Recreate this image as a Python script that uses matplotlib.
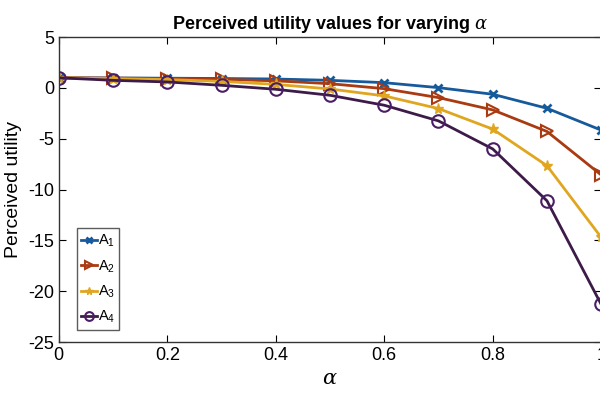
import matplotlib
matplotlib.use('Agg')
import matplotlib.pyplot as plt

plt.rcParams['font.family'] = ['Liberation Sans', 'DejaVu Sans']
plt.rcParams['mathtext.fontset'] = 'dejavuserif'
plt.rcParams['axes.unicode_minus'] = False

# values
alpha = [0, 0.1, 0.2, 0.3, 0.4, 0.5, 0.6, 0.7, 0.8, 0.9, 1.0]
a1 = [1.0, 0.98, 0.96, 0.93, 0.88, 0.75, 0.52, 0.03, -0.62, -2.0, -4.15]
a2 = [1.0, 0.97, 0.93, 0.85, 0.70, 0.42, -0.07, -0.95, -2.16, -4.28, -8.56]
a3 = [1.0, 0.92, 0.82, 0.65, 0.35, -0.10, -0.78, -2.03, -4.05, -7.65, -14.7]
a4 = [1.0, 0.75, 0.59, 0.26, -0.13, -0.72, -1.70, -3.24, -6.0, -11.1, -21.3]
labels = [r'$\mathregular{A_1}$', r'$\mathregular{A_2}$', r'$\mathregular{A_3}$', r'$\mathregular{A_4}$']

fig = plt.figure(figsize=(6, 3.95), dpi=100)
ax = fig.add_axes([0.098, 0.134, 0.904, 0.772])

ax.plot(alpha, a1, color='#175A9C', marker='x', markersize=6, mew=2, lw=2, label=labels[0])
ax.plot(alpha, a2, color='#A93A12', marker='>', markersize=8, mfc='none', mew=1.5, lw=2, label=labels[1])
ax.plot(alpha, a3, color='#E0A620', marker='*', markersize=8, lw=2, label=labels[2])
ax.plot(alpha, a4, color='#3C1B48', marker='o', markersize=9, mfc='none', mec='#4A1E66',
        mew=1.5, lw=2, label=labels[3])

ax.set_xlim(0, 1)
ax.set_ylim(-25, 5)
ax.set_xticks([0, 0.2, 0.4, 0.6, 0.8, 1])
ax.set_xticklabels(['0', '0.2', '0.4', '0.6', '0.8', '1'])
ax.set_yticks([-25, -20, -15, -10, -5, 0, 5])
ax.tick_params(direction='in', top=True, right=True, labelsize=13, length=5)
for s in ax.spines.values():
    s.set_linewidth(1.0)
    s.set_color('#333333')

ax.set_title(r'Perceived utility values for varying $\alpha$', fontsize=13, fontweight='bold')
ax.set_xlabel(r'$\alpha$', fontsize=15)
ax.set_ylabel('Perceived utility', fontsize=14, labelpad=4)

leg = ax.legend(loc='lower left', bbox_to_anchor=(0.033, 0.04), fontsize=10.5, fancybox=False,
                handlelength=1.1, handletextpad=0.05, borderpad=0.3, labelspacing=0.62,
                borderaxespad=0, markerscale=0.7)
leg.get_frame().set_edgecolor('#333333')
leg.get_frame().set_linewidth(1.0)

plt.savefig('out.png', dpi=100)
